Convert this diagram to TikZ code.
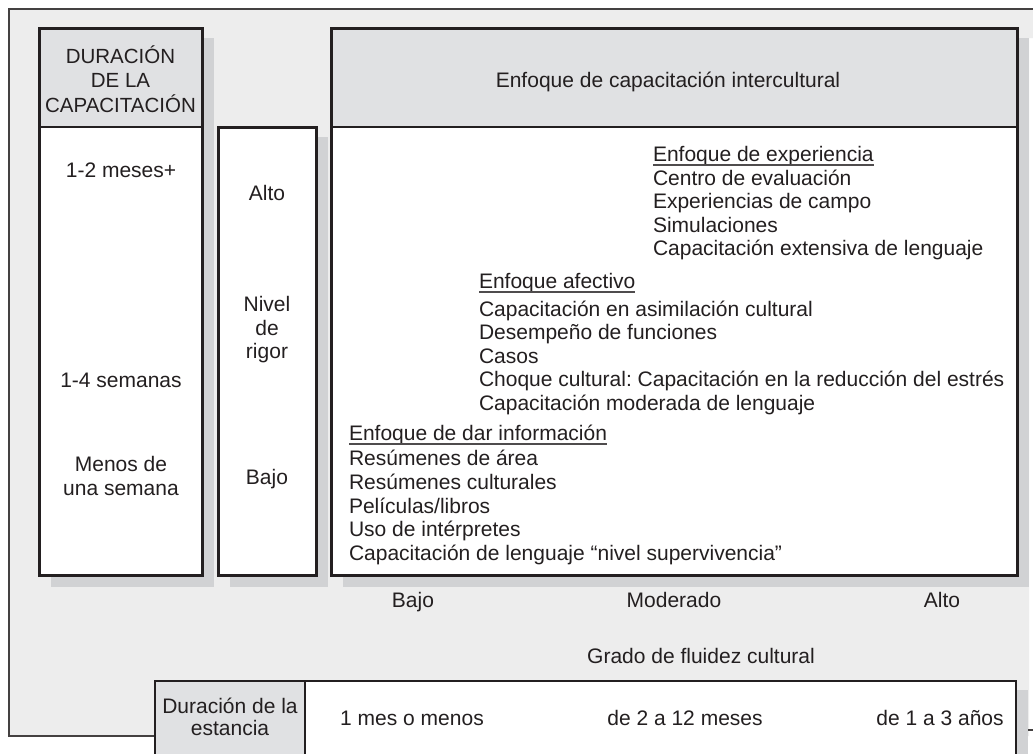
\documentclass[tikz,border=0pt]{standalone}
\usepackage{fontspec}
\setmainfont{Liberation Sans}
\definecolor{framefill}{HTML}{EDEDED}
\definecolor{headfill}{HTML}{E0E1E3}
\definecolor{shadowc}{HTML}{D1D2D4}
\definecolor{ink}{HTML}{231F20}
\frenchspacing
\begin{document}
\begin{tikzpicture}[x=1pt,y=-1pt,
  txt/.style={inner sep=0pt,outer sep=0pt,font=\fontsize{21}{24}\selectfont,text=ink},
  ctxt/.style={txt,anchor=base},
  ltxt/.style={txt,anchor=base west},
  boxline/.style={draw=ink,line width=3pt},
  sepline/.style={draw=ink,line width=1.2pt},
  frameline/.style={draw=ink!85,line width=1.6pt},
  uline/.style={draw=ink!80,line width=1.3pt},
  shadow/.style={fill=shadowc}]
\useasboundingbox (0,0) rectangle (1033,753);
\fill[white] (0,0) rectangle (1033,753);
% outer frame
\fill[framefill] (9,9) -- (1033,9) -- (1033,38) -- (1029,38) -- (1029,736) -- (9,736) -- cycle;
\draw[frameline] (155,736) -- (9,736) -- (9,9) -- (1033,9);
\draw[frameline] (1027,730) -- (1033,730);
% shadows
\fill[shadow] (51,38) rectangle (214,587);
\fill[shadow] (230,137) rectangle (328,587);
\fill[shadow] (343,38) rectangle (1029,587);
% column 1
\fill[white] (39,28) rectangle (202,575);
\fill[headfill] (39,28) rectangle (202,127);
\draw[sepline] (39,127) -- (202,127);
\draw[boxline] (39,28) rectangle (202,575);
% column 2
\fill[white] (218,127) rectangle (316,575);
\draw[boxline] (218,127) rectangle (316,575);
% main box
\fill[white] (331,28) rectangle (1017,575);
\fill[headfill] (331,28) rectangle (1017,127);
\draw[sepline] (331,127) -- (1017,127);
\draw[boxline] (331,28) rectangle (1017,575);
% bottom box
\fill[shadow] (1016,690) rectangle (1028,760);
\fill[white] (155,681) rectangle (1016,760);
\fill[headfill] (155,681) rectangle (305,760);
\draw[draw=ink,line width=1.8pt] (305,681) -- (305,760);
\draw[draw=ink,line width=1.8pt] (155,760) -- (155,681) -- (1016,681) -- (1016,760);

% column 1 texts
\node[ctxt,font=\fontsize{20.5}{24}\selectfont] (h1) at (120.5,63) {DURACIÓN};
\node[ctxt,font=\fontsize{20.5}{24}\selectfont] (h2) at (120.5,87) {DE LA};
\node[ctxt,font=\fontsize{20.5}{24}\selectfont] (h3) at (120.5,112) {CAPACITACIÓN};
\node[ctxt] (d1) at (121,177) {1-2 meses+};
\node[ctxt] (d2) at (121,387) {1-4 semanas};
\node[ctxt] (d3a) at (121,471) {Menos de};
\node[ctxt] (d3b) at (121,495) {una semana};
% column 2 texts
\node[ctxt] (r1) at (267,200) {Alto};
\node[ctxt] (r2a) at (267,311) {Nivel};
\node[ctxt] (r2b) at (267,335) {de};
\node[ctxt] (r2c) at (267,358) {rigor};
\node[ctxt] (r3) at (267,484) {Bajo};
% main header
\node[ctxt] (mh) at (668,87) {Enfoque de capacitación intercultural};
% experiencia
\node[ltxt] (e0) at (653,161) {Enfoque de experiencia};
\draw[uline] ([yshift=-4pt]e0.base west) -- ([yshift=-4pt]e0.base east);
\node[ltxt] (e1) at (653,185) {Centro de evaluación};
\node[ltxt] (e2) at (653,208.5) {Experiencias de campo};
\node[ltxt] (e3) at (653,232) {Simulaciones};
\node[ltxt] (e4) at (653,255.5) {Capacitación extensiva de lenguaje};
% afectivo
\node[ltxt] (a0) at (479,288) {Enfoque afectivo};
\draw[uline] ([yshift=-4pt]a0.base west) -- ([yshift=-4pt]a0.base east);
\node[ltxt] (a1) at (479,316) {Capacitación en asimilación cultural};
\node[ltxt] (a2) at (479,339.5) {Desempeño de funciones};
\node[ltxt] (a3) at (479,363) {Casos};
\node[ltxt] (a4) at (479,386.5) {Choque cultural: Capacitación en la reducción del estrés};
\node[ltxt] (a5) at (479,410) {Capacitación moderada de lenguaje};
% informacion
\node[ltxt] (i0) at (349,440) {Enfoque de dar información};
\draw[uline] ([yshift=-4pt]i0.base west) -- ([yshift=-4pt]i0.base east);
\node[ltxt] (i1) at (349,465.5) {Resúmenes de área};
\node[ltxt] (i2) at (349,489.3) {Resúmenes culturales};
\node[ltxt] (i3) at (349,513.1) {Películas/libros};
\node[ltxt] (i4) at (349,536.9) {Uso de intérpretes};
\node[ltxt] (i5) at (349,560.7) {Capacitación de lenguaje “nivel supervivencia”};
% axis
\node[ctxt] (x1) at (413,607) {Bajo};
\node[ctxt] (x2) at (674,607) {Moderado};
\node[ctxt] (x3) at (942,607) {Alto};
\node[ctxt] (xl) at (701,663) {Grado de fluidez cultural};
% bottom row
\node[ctxt] (s0a) at (230,713) {Duración de la};
\node[ctxt] (s0b) at (230,735) {estancia};
\node[ctxt] (s1) at (412,725) {1 mes o menos};
\node[ctxt] (s2) at (685,725) {de 2 a 12 meses};
\node[ctxt] (s3) at (940,725) {de 1 a 3 años};
\end{tikzpicture}
\end{document}
